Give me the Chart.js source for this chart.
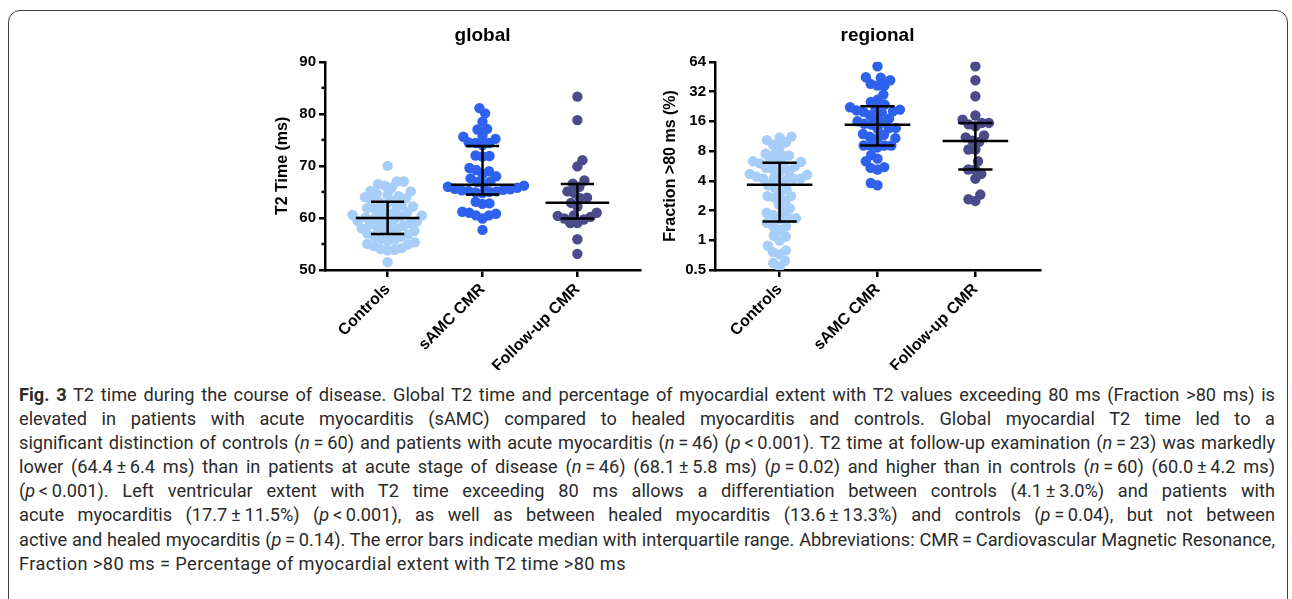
<!DOCTYPE html>
<html><head><meta charset="utf-8">
<script src="https://cdn.jsdelivr.net/npm/chart.js@4.4.1/dist/chart.umd.min.js"></script>
<style>
html,body{margin:0;padding:0;background:#fff;width:1292px;height:599px;overflow:hidden;}
#frame{position:absolute;left:8px;top:10px;width:1280px;height:640px;border:1.5px solid #3c3c3c;border-radius:12px;box-sizing:border-box;}
.wrap{position:absolute;top:0;}
#caption{position:absolute;left:19px;top:383px;width:1256px;font-family:Roboto,'Noto Sans',sans-serif;font-size:18.2px;color:#2a2a2a;}
.ln{white-space:nowrap;height:24.1px;line-height:24.1px;}
</style></head>
<body>
<div id="frame"></div>
<div class="wrap" style="left:260px"><canvas id="g" width="440" height="370"></canvas></div>
<div class="wrap" style="left:640px"><canvas id="r" width="460" height="370"></canvas></div>
<div id="caption"></div>
<script>
// ---------- data ----------
const categories = ['Controls', 'sAMC CMR', 'Follow-up CMR'];

const globalControls = [70.0, 67.0, 67.0, 66.5, 66.2, 65.8, 65.2, 65.1, 64.6, 64.4, 64.2, 64.0, 63.8, 63.4, 63.2, 63.0, 62.6, 62.5, 62.2, 61.9, 61.8, 61.5, 61.3, 61.2, 60.9, 60.6, 60.5, 60.3, 60.1, 60.0, 59.8, 59.6, 59.4, 59.3, 59.0, 58.9, 58.8, 58.5, 58.3, 58.0, 57.9, 57.7, 57.5, 57.2, 57.0, 56.8, 56.5, 56.4, 56.0, 55.8, 55.6, 55.3, 55.0, 54.9, 54.6, 54.2, 54.0, 53.9, 53.8, 51.5];
const globalSAMC = [81.1, 80.1, 78.5, 77.1, 77.0, 75.8, 75.6, 75.2, 74.5, 74.4, 74.4, 74.0, 72.0, 71.9, 71.8, 69.6, 69.2, 69.0, 68.4, 68.0, 67.6, 67.0, 66.9, 66.5, 66.2, 66.0, 65.8, 65.6, 65.5, 65.4, 65.3, 65.2, 65.1, 65.0, 64.9, 64.8, 63.1, 62.8, 62.7, 61.2, 61.0, 60.8, 60.5, 60.5, 59.9, 57.7];
const globalFollowUp = [83.3, 78.8, 71.1, 69.9, 67.2, 66.6, 66.0, 65.1, 64.8, 63.9, 63.8, 62.9, 62.2, 61.0, 60.5, 60.4, 60.2, 59.9, 59.7, 59.0, 59.0, 55.9, 53.1];

const regionalControls = [11.2, 11.0, 10.3, 9.8, 9.3, 8.9, 7.6, 7.5, 7.2, 7.2, 6.4, 6.3, 6.2, 6.2, 6.0, 5.8, 5.6, 5.4, 5.2, 5.0, 4.9, 4.7, 4.6, 4.4, 4.2, 4.2, 4.2, 4.2, 4.1, 3.9, 3.6, 3.4, 3.3, 3.0, 2.8, 2.8, 2.7, 2.5, 2.3, 2.1, 1.96, 1.9, 1.8, 1.67, 1.67, 1.64, 1.5, 1.38, 1.38, 1.27, 1.11, 1.09, 0.99, 0.88, 0.79, 0.76, 0.72, 0.62, 0.59, 0.54];
const regionalSAMC = [57.7, 44.7, 44.3, 41.6, 38.3, 36.8, 36.8, 29.8, 26.4, 25.1, 23.6, 22.2, 21.5, 21.0, 20.6, 20.2, 19.9, 19.5, 18.4, 17.0, 17.0, 16.0, 15.5, 15.1, 14.8, 13.7, 13.6, 13.5, 11.9, 11.7, 11.2, 10.8, 10.8, 9.1, 9.1, 9.1, 9.1, 8.7, 7.3, 6.7, 6.3, 5.5, 5.4, 5.2, 3.8, 3.6];
const regionalFollowUp = [57.7, 41.6, 28.7, 18.3, 16.6, 15.4, 15.4, 14.9, 14.2, 11.5, 11.0, 10.2, 9.9, 8.3, 8.3, 6.3, 5.2, 5.2, 4.7, 4.2, 2.9, 2.6, 2.5];

// median with interquartile range
const globalMedian = [60.0, 66.4, 62.9];
const globalQ1 = [56.9, 64.5, 59.9];
const globalQ3 = [63.1, 73.8, 66.5];
const regionalMedian = [3.65, 14.8, 10.1];
const regionalQ1 = [1.55, 9.1, 5.2];
const regionalQ3 = [6.1, 22.7, 15.4];

const globalTicks = [50, 60, 70, 80, 90];
const globalMinorTicks = [55, 65, 75, 85];
const regionalTicks = [0.5, 1, 2, 4, 8, 16, 32, 64];

const groupColors = ['#a7cdf9', '#2e62ee', '#4b4a8b'];

const captionLines = [
  '<b>Fig. 3</b> T2 time during the course of disease. Global T2 time and percentage of myocardial extent with T2 values exceeding 80 ms (Fraction &gt;80 ms) is',
  'elevated in patients with acute myocarditis (sAMC) compared to healed myocarditis and controls. Global myocardial T2 time led to a',
  'significant distinction of controls (<i>n</i>\u2009=\u200960) and patients with acute myocarditis (<i>n</i>\u2009=\u200946) (<i>p</i>\u2009&lt;\u20090.001). T2 time at follow-up examination (<i>n</i>\u2009=\u200923) was markedly',
  'lower (64.4\u2009±\u20096.4 ms) than in patients at acute stage of disease (<i>n</i>\u2009=\u200946) (68.1\u2009±\u20095.8 ms) (<i>p</i>\u2009=\u20090.02) and higher than in controls (<i>n</i>\u2009=\u200960) (60.0\u2009±\u20094.2 ms)',
  '(<i>p</i>\u2009&lt;\u20090.001). Left ventricular extent with T2 time exceeding 80 ms allows a differentiation between controls (4.1\u2009±\u20093.0%) and patients with',
  'acute myocarditis (17.7\u2009±\u200911.5%) (<i>p</i>\u2009&lt;\u20090.001), as well as between healed myocarditis (13.6\u2009±\u200913.3%) and controls (<i>p</i>\u2009=\u20090.04), but not between',
  'active and healed myocarditis (<i>p</i>\u2009=\u20090.14). The error bars indicate median with interquartile range. Abbreviations: CMR\u2009=\u2009Cardiovascular Magnetic Resonance,',
  'Fraction &gt;80 ms = Percentage of myocardial extent with T2 time &gt;80 ms'
];

// ---------- drawing ----------
const FONT = "'Liberation Sans', Arial, sans-serif";
const MED_HALF = 0.335, CAP_HALF = 0.175;

const minorTickPlugin = {
  id: 'minorTicks',
  afterDraw(chart, args, opts) {
    if (!opts || !opts.values) return;
    const y = chart.scales.y, ctx = chart.ctx;
    ctx.save();
    ctx.strokeStyle = '#000'; ctx.lineWidth = 2.5;
    opts.values.forEach(v => {
      const py = y.getPixelForValue(v);
      ctx.beginPath(); ctx.moveTo(y.right - 3.5, py); ctx.lineTo(y.right, py); ctx.stroke();
    });
    ctx.restore();
  }
};

function buildChart(id, title, yTitle, groups, med, q1, q3, yScale, yTitlePad, yWidth, minor) {
  const datasets = groups.map((vals, i) => ({
    type: 'scatter',
    data: vals.map(v => ({x: i, y: v})),
    backgroundColor: groupColors[i], borderWidth: 0,
    pointRadius: 5.2, pointHoverRadius: 5.2, order: 2
  }));
  const bars = [];
  med.forEach((m, i) => {
    bars.push({x: i - MED_HALF, y: m}, {x: i + MED_HALF, y: m}, {x: null, y: null},
      {x: i, y: q1[i]}, {x: i, y: q3[i]}, {x: null, y: null},
      {x: i - CAP_HALF, y: q1[i]}, {x: i + CAP_HALF, y: q1[i]}, {x: null, y: null},
      {x: i - CAP_HALF, y: q3[i]}, {x: i + CAP_HALF, y: q3[i]}, {x: null, y: null});
  });
  datasets.push({type: 'line', data: bars, borderColor: '#000', borderWidth: 2.5,
    pointRadius: 0, showLine: true, spanGaps: false, fill: false, order: 1, borderCapStyle: 'butt'});

  const tickFont = {family: FONT, size: 15, weight: 'bold'};
  yScale.ticks = Object.assign({font: tickFont, color: '#000', padding: 3, autoSkip: false}, yScale.ticks || {});
  yScale.grid = {drawOnChartArea: false, color: '#000', lineWidth: 2.5, tickLength: 6};
  yScale.border = {color: '#000', width: 2.5};
  yScale.title = {display: true, text: yTitle, color: '#000', font: {family: FONT, size: 16, weight: 'bold'}, padding: {top: yTitlePad, bottom: 0}};
  yScale.afterFit = s => { s.width = yWidth; };

  const chart = new Chart(document.getElementById(id), {
    type: 'scatter',
    data: {datasets},
    plugins: [minorTickPlugin],
    options: {
      responsive: false, animation: false,
      layout: {padding: {left: 0, right: 60, top: 0, bottom: 0}},
      plugins: {
        legend: {display: false}, tooltip: {enabled: false},
        title: {display: true, text: title, fullSize: false, color: '#000',
          font: {family: FONT, size: 19, weight: 'bold'}, padding: {top: 24, bottom: 15}},
        minorTicks: {values: minor}
      },
      scales: {
        x: {
          type: 'linear', min: -0.66, max: 2.66,
          afterBuildTicks: s => { s.ticks = categories.map((c, i) => ({value: i})); },
          ticks: {callback: v => categories[v], minRotation: 45, maxRotation: 45, autoSkip: false,
            font: {family: FONT, size: 16, weight: 'bold'}, color: '#000', padding: 3},
          grid: {drawOnChartArea: false, color: '#000', lineWidth: 2.5, tickLength: 7},
          border: {color: '#000', width: 2.5},
          afterFit: s => { s.height = 100; }
        },
        y: yScale
      }
    }
  });
  swarm(chart, groups.length);
  return chart;
}

// beeswarm offsets computed from the values' pixel positions
function swarm(chart, n) {
  const xs = chart.scales.x, ys = chart.scales.y;
  const unit = xs.getPixelForValue(1) - xs.getPixelForValue(0);
  const DX = 7, DY = 9;
  for (let i = 0; i < n; i++) {
    const ds = chart.data.datasets[i];
    const pts = ds.data.map((p, idx) => ({idx, py: ys.getPixelForValue(p.y)}));
    pts.sort((a, b) => b.py - a.py);
    const placed = [];
    let flip = 1;
    pts.forEach(p => {
      const forb = [];
      placed.forEach(q => {
        const dy = Math.abs(q.py - p.py) / DY;
        if (dy < 1) { const w = DX * Math.sqrt(1 - dy * dy); forb.push([q.ox - w, q.ox + w]); }
      });
      const cands = [0];
      forb.forEach(f => cands.push(f[0], f[1]));
      cands.sort((a, b) => (Math.abs(a) - Math.abs(b)) || (flip * (b - a)));
      let ox = 0;
      for (const c of cands) {
        if (forb.every(f => c <= f[0] + 1e-6 || c >= f[1] - 1e-6)) { ox = c; break; }
      }
      flip = -flip;
      p.ox = ox; placed.push(p);
    });
    pts.forEach(p => { ds.data[p.idx].x = i + p.ox / unit; });
  }
  chart.update('none');
}

buildChart('g', 'global', 'T2 Time (ms)',
  [globalControls, globalSAMC, globalFollowUp], globalMedian, globalQ1, globalQ3,
  {type: 'linear', min: 50, max: 90,
   afterBuildTicks: s => { s.ticks = globalTicks.map(v => ({value: v})); },
   ticks: {callback: v => String(v)}}, 13, 65, globalMinorTicks);

buildChart('r', 'regional', 'Fraction >80 ms (%)',
  [regionalControls, regionalSAMC, regionalFollowUp], regionalMedian, regionalQ1, regionalQ3,
  {type: 'logarithmic', min: 0.5, max: 64,
   afterBuildTicks: s => { s.ticks = regionalTicks.map(v => ({value: v})); },
   ticks: {callback: v => String(v)}}, 21, 75, null);

// caption, each line justified to the text width (last line left unjustified)
const cap = document.getElementById('caption');
const W = 1256;
captionLines.forEach((html, k) => {
  const div = document.createElement('div'); div.className = 'ln';
  const span = document.createElement('span'); span.innerHTML = html;
  div.appendChild(span); cap.appendChild(div);
  const w = span.getBoundingClientRect().width;
  if (k < captionLines.length - 1) {
    const spaces = (span.textContent.match(/ /g) || []).length;
    if (w > W) span.style.letterSpacing = ((W - w) / span.textContent.length) + 'px';
    else span.style.wordSpacing = ((W - w) / spaces) + 'px';
  } else {
    span.style.letterSpacing = '0.4px';
  }
});
</script>
</body></html>
